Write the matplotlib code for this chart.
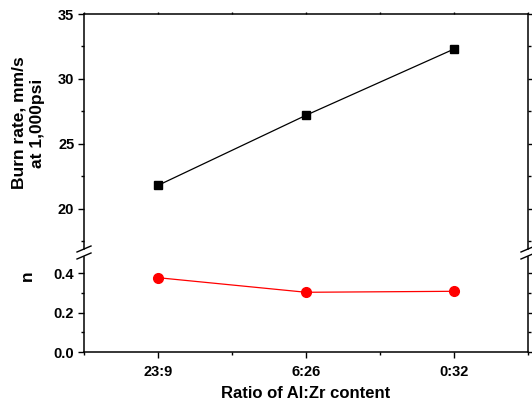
import matplotlib
matplotlib.use("Agg")
import matplotlib.pyplot as plt
from matplotlib.lines import Line2D
from matplotlib.ticker import MultipleLocator, FormatStrFormatter

categories = ["23:9", "6:26", "0:32"]
burn_rate = [21.8, 27.2, 32.3]
n_values = [0.377, 0.303, 0.308]

plt.rcParams['font.family'] = ['Liberation Sans', 'DejaVu Sans']
plt.rcParams['font.weight'] = 'bold'

W, H = 532, 404
fig = plt.figure(figsize=(W/100, H/100), dpi=100)

L, R = 84/W, 528/W
ax1 = fig.add_axes([L, 1-249/H, R-L, (249-14)/H])
ax2 = fig.add_axes([L, 1-352/H, R-L, (352-257)/H])

x = list(range(1, len(categories)+1))
ax1.plot(x, burn_rate, color='black', lw=0.9, marker='s', ms=6, mfc='black', mec='black')
ax2.plot(x, n_values, color='red', lw=0.9, marker='o', ms=7, mfc='red', mec='red')

for ax in (ax1, ax2):
    ax.set_xlim(0.5, 3.5)
    ax.xaxis.set_major_locator(MultipleLocator(1))
    ax.xaxis.set_minor_locator(MultipleLocator(0.5))
    for s in ax.spines.values():
        s.set_linewidth(1.1)
    ax.tick_params(which='both', direction='out', width=1.0, labelsize=10.5,
                   right=True, top=False, pad=3)
    ax.tick_params(which='major', length=4)
    ax.tick_params(which='minor', length=2.5)

ax1.set_ylim(16.9, 35)
ax1.yaxis.set_major_locator(MultipleLocator(5))
ax1.yaxis.set_minor_locator(MultipleLocator(2.5))
ax1.spines['bottom'].set_visible(False)
ax1.tick_params(axis='x', which='both', bottom=False, labelbottom=False, top=True)
ax1.tick_params(axis='x', which='both', length=1.5)

ax2.set_ylim(0, 0.482)
ax2.yaxis.set_major_locator(MultipleLocator(0.2))
ax2.yaxis.set_minor_locator(MultipleLocator(0.1))
ax2.spines['top'].set_visible(False)
ax2.set_xticks(x)
ax2.set_xticklabels(categories)
ax2.yaxis.set_major_formatter(FormatStrFormatter('%.1f'))
ax2.tick_params(axis='x', which='major', pad=5)

for lab in ax1.get_yticklabels() + ax2.get_yticklabels() + ax2.get_xticklabels():
    lab.set_fontweight('bold')

fig.text((84+444/2)/W, 1-393/H, "Ratio of Al:Zr content", ha='center', va='center',
         fontsize=12, fontweight='bold')
fig.text(28/W, 1-123/H, "Burn rate, mm/s\nat 1,000psi", rotation=90, ha='center', va='center',
         fontsize=12.5, fontweight='bold', linespacing=1.3, multialignment='center')
fig.text(27/W, 1-276/H, "n", rotation=90, ha='center', va='center', fontsize=12.5, fontweight='bold')

# break marks
for px in (84, 528):
    for py in (249, 256):
        fig.add_artist(Line2D([(px-7)/W, (px+7)/W], [1-(py+3)/H, 1-(py-3)/H],
                              color='black', lw=1.0, transform=fig.transFigure))

fig.savefig("out.png", dpi=100)
